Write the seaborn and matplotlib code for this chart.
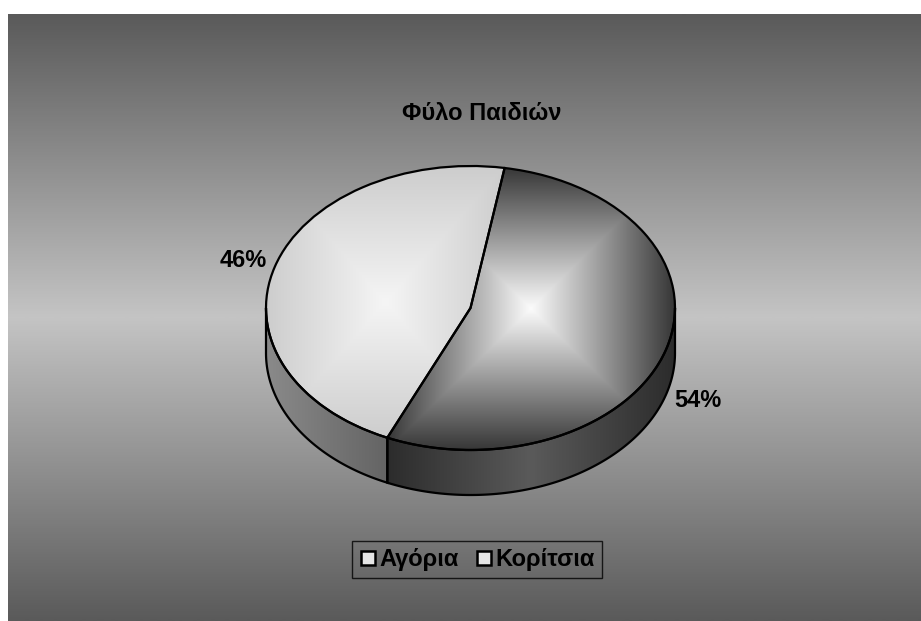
import numpy as np
import matplotlib
matplotlib.use("Agg")
import matplotlib.pyplot as plt
from matplotlib.patches import Polygon
from matplotlib.lines import Line2D
import seaborn as sns

# Chart content
title = "Φύλο Παιδιών"
categories = ["Αγόρια", "Κορίτσια"]
shares = [46, 54]

sns.set_theme(style="white")
plt.rcParams["font.family"] = ["Liberation Sans", "DejaVu Sans"]
plt.rcParams["text.color"] = "black"

W, H = 921, 621
fig = plt.figure(figsize=(W / 100, H / 100), dpi=100, facecolor="white")

# Backdrop panel: grey band that lightens toward the middle
bg = fig.add_axes([8 / W, 0, (W - 8) / W, (H - 14) / H])
bg.axis("off")
t = np.linspace(0, 1, 600)
band = 1 - np.abs(2 * t - 1)
bg_cmap = sns.blend_palette(["#5a5a5a", "#c4c4c4"], as_cmap=True)
bg.imshow(band[:, None], cmap=bg_cmap, vmin=0, vmax=1, aspect="auto",
          extent=[0, 1, 0, 1], interpolation="bilinear")
bg.set_xlim(0, 1)
bg.set_ylim(0, 1)

# Pie axes: unit circle stretched into the tilted ellipse of the 3-D pie
cx, cy, rx, ry = 470.5, 308.0, 204.5, 142.0
depth = 45.0 / ry
ax = fig.add_axes([0, 0, 1, 1])
ax.patch.set_alpha(0)

wedges, _ = ax.pie(shares, startangle=246, counterclock=False,
                   colors=["none", "none"],
                   wedgeprops=dict(edgecolor="black", linewidth=1.6))
ax.set_aspect("auto")
ax.axis("off")

top_cmaps = [
    sns.blend_palette(["#f5f5f5", "#cdcdcd"], as_cmap=True),
    sns.blend_palette(["#fbfbfb", "#373737"], as_cmap=True),
]
# side walls: light slice shades left-to-right, dark slice from its middle
wall_styles = [
    (sns.blend_palette(["#8a8a8a", "#646464"], as_cmap=True), False),
    (sns.blend_palette(["#5a5a5a", "#2c2c2c"], as_cmap=True), True),
]


def arc(a0, a1, n=200):
    a = np.radians(np.linspace(a0, a1, n))
    return np.cos(a), np.sin(a)


for i, (w, tc, (wc, centred)) in enumerate(zip(wedges, top_cmaps,
                                                  wall_styles)):
    w.set_zorder(4)
    t1, t2 = w.theta1, w.theta2
    # "from centre" rectangular gradient over the slice's bounding box
    xs, ys = arc(t1, t2)
    xs = np.append(xs, 0.0)
    ys = np.append(ys, 0.0)
    x0, x1, y0, y1 = xs.min(), xs.max(), ys.min(), ys.max()
    gx, gy = np.meshgrid(np.linspace(-1, 1, 300), np.linspace(-1, 1, 300))
    g = np.maximum(np.abs(gx), np.abs(gy))
    im = ax.imshow(g, cmap=tc, vmin=0, vmax=1, extent=[x0, x1, y0, y1],
                   origin="lower", aspect="auto", interpolation="bilinear",
                   zorder=3)
    im.set_clip_path(w)

    # visible side wall: the part of the slice on the front half
    for base in (-180, 180, 540):
        lo, hi = max(t1, base), min(t2, base + 180)
        if hi <= lo:
            continue
        ax_, ay_ = arc(lo, hi)
        px = np.concatenate([ax_, ax_[::-1]])
        py = np.concatenate([ay_, ay_[::-1] - depth])
        poly = Polygon(np.column_stack([px, py]), closed=True,
                       facecolor="none", edgecolor="black", linewidth=1.6,
                       zorder=4)
        ax.add_patch(poly)
        wx0, wx1 = ax_.min(), ax_.max()
        ramp = np.linspace(-1, 1, 300) if centred else np.linspace(0, 1, 300)
        hg = np.abs(ramp)[None, :]
        wim = ax.imshow(hg, cmap=wc, vmin=0, vmax=1,
                        extent=[wx0, wx1, ay_.min() - depth, ay_.max()],
                        origin="lower", aspect="auto",
                        interpolation="bilinear", zorder=2)
        wim.set_clip_path(poly)

    # percentage label outside the slice
    mid = np.radians((t1 + t2) / 2)
    lx, ly = 1.16 * np.cos(mid), 1.16 * np.sin(mid)
    if ly < 0:
        ly -= depth
    ax.text(lx, ly, f"{shares[i] / sum(shares) * 100:.0f}%", ha="center",
            va="center", fontsize=17, fontweight="bold", color="black",
            zorder=5)

ax.set_xlim(-cx / rx, (W - cx) / rx)
ax.set_ylim(-(H - cy) / ry, cy / ry)

fig.text(482 / W, 1 - 114 / H, title, ha="center", va="center",
         fontsize=17, fontweight="bold", color="black")

handles = [Line2D([], [], marker="s", linestyle="none",
                  markerfacecolor="#e6e6e6", markeredgecolor="black",
                  markeredgewidth=1.8, markersize=10.5) for _ in categories]
leg = fig.legend(handles, categories, ncol=2, loc="center",
                 bbox_to_anchor=(477 / W, 1 - 559.5 / H), frameon=True,
                 fancybox=False, edgecolor="black", facecolor="none",
                 prop=dict(weight="bold", size=17), handlelength=0.7,
                 handletextpad=0.15, columnspacing=0.7, borderpad=0.3,
                 borderaxespad=0)
leg.get_frame().set_linewidth(1.0)
for txt in leg.get_texts():
    txt.set_color("black")

fig.savefig("out.png", dpi=100, facecolor="white")
